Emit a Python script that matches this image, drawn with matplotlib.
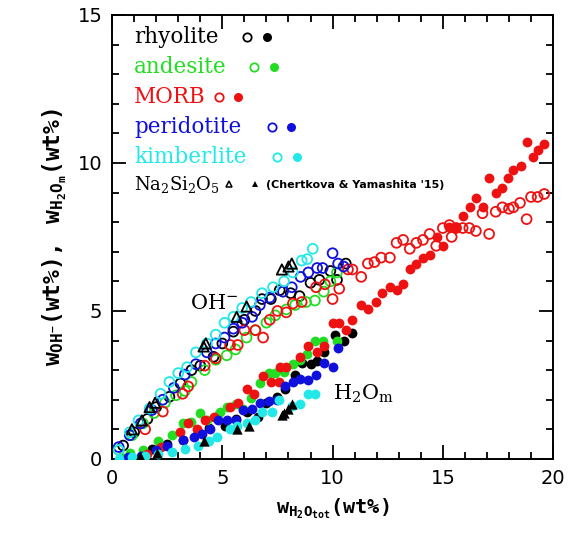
import matplotlib.pyplot as plt
from matplotlib.ticker import MultipleLocator

plt.rcParams['mathtext.fontset'] = 'custom'
plt.rcParams['mathtext.rm'] = 'DejaVu Serif'
plt.rcParams['mathtext.it'] = 'DejaVu Serif:italic'
plt.rcParams['mathtext.bf'] = 'DejaVu Serif:bold'
plt.rcParams['mathtext.tt'] = 'DejaVu Sans Mono:bold'

# Data (OH- = open symbols, H2Om = filled symbols)
rhy_oh_x = [0.5, 1.0, 1.6, 2.0, 2.6, 3.1, 3.6, 4.0, 4.6, 5.0, 5.5, 6.0, 6.5, 6.8, 7.2, 7.6, 8.1, 8.5, 9.0, 9.4, 9.9, 10.2, 10.6]
rhy_oh_y = [0.45, 0.9, 1.35, 1.75, 2.1, 2.55, 3.0, 3.15, 3.45, 3.9, 4.3, 4.7, 5.0, 5.4, 5.4, 5.7, 5.6, 5.5, 5.95, 6.05, 6.35, 6.05, 6.6]
rhy_h2o_x = [0.8, 1.8, 2.5, 3.2, 3.9, 4.4, 4.7, 5.1, 5.6, 6.1, 6.6, 7.0, 7.5, 7.85, 8.3, 8.6, 9.0, 9.3, 9.6, 10.1, 10.5, 10.9]
rhy_h2o_y = [0.1, 0.35, 0.5, 0.65, 0.9, 1.05, 1.4, 1.1, 1.35, 1.6, 1.4, 1.9, 2.1, 2.35, 2.85, 3.25, 3.2, 3.3, 3.6, 4.2, 4.0, 4.25]

and_oh_x = [0.3, 0.9, 1.4, 1.9, 2.4, 2.9, 3.3, 3.6, 4.2, 4.7, 5.2, 5.6, 6.1, 6.5, 7.0, 7.4, 7.9, 8.3, 8.8, 9.2, 9.6, 9.9, 10.2]
and_oh_y = [0.3, 0.8, 1.2, 1.55, 1.9, 2.15, 2.3, 2.6, 3.0, 3.35, 3.5, 3.7, 4.1, 4.35, 4.6, 4.85, 5.05, 5.2, 5.3, 5.35, 5.65, 6.0, 6.3]
and_h2o_x = [0.4, 0.8, 1.4, 2.1, 2.7, 3.2, 3.6, 4.0, 4.3, 4.9, 5.2, 5.6, 5.95, 6.3, 6.7, 7.1, 7.4, 7.8, 8.2, 8.5, 8.85, 9.2, 9.55, 10.2]
and_h2o_y = [0.05, 0.2, 0.3, 0.6, 0.8, 1.2, 1.25, 1.55, 1.3, 1.6, 1.75, 1.85, 1.7, 2.05, 2.55, 2.9, 2.9, 2.95, 3.2, 3.35, 3.55, 4.0, 4.0, 4.0]

morb_oh_x = [1.5, 2.3, 3.2, 3.45, 4.2, 4.7, 5.35, 5.7, 6.0, 6.5, 6.85, 7.15, 7.5, 7.9, 8.2, 8.6, 9.25, 9.65, 10.0, 10.3,
             10.7, 10.9, 11.3, 11.6, 11.9, 12.2, 12.6, 12.9, 13.2, 13.5, 13.8, 14.1, 14.4, 14.7, 15.0, 15.3, 15.4, 15.6,
             15.9, 16.2, 16.5, 16.8, 17.1, 17.4, 17.7, 18.0, 18.2, 18.5, 18.8, 19.0, 19.3, 19.6]
morb_oh_y = [1.0, 1.6, 2.2, 2.45, 3.15, 3.4, 3.85, 3.85, 4.35, 4.35, 4.1, 4.7, 5.0, 4.95, 5.25, 5.3, 5.8, 5.9, 5.4, 5.75,
             6.4, 6.4, 6.15, 6.6, 6.65, 6.8, 6.8, 7.3, 7.4, 7.1, 7.3, 7.4, 7.6, 7.2, 7.8, 7.9, 7.5, 7.8,
             7.8, 7.8, 7.7, 8.3, 7.6, 8.35, 8.5, 8.45, 8.5, 8.65, 8.1, 8.85, 8.85, 8.95]
morb_h2o_x = [1.6, 2.2, 3.1, 3.45, 3.85, 4.2, 4.6, 5.35, 5.7, 6.1, 6.45, 6.85, 7.2, 7.55, 7.6, 7.9, 8.5, 8.9, 9.3, 9.6,
              10.0, 10.3, 10.6, 10.9, 11.3, 11.6, 11.95, 12.25, 12.6, 12.9, 13.2, 13.5, 13.8, 14.1, 14.4, 14.75, 15.0,
              15.3, 15.6, 15.9, 16.25, 16.5, 16.8, 17.1, 17.4, 17.7, 17.95, 18.2, 18.55, 18.8, 19.1, 19.3, 19.6]
morb_h2o_y = [0.15, 0.4, 0.9, 1.2, 1.0, 1.3, 1.4, 1.75, 1.9, 2.35, 2.2, 2.8, 2.6, 2.6, 3.1, 3.1, 3.45, 3.8, 3.6, 3.8,
              4.6, 4.6, 4.35, 4.7, 5.2, 5.05, 5.3, 5.6, 5.8, 5.7, 5.9, 6.4, 6.6, 6.8, 6.9, 7.5, 7.2,
              7.85, 7.85, 8.2, 8.5, 8.8, 8.5, 9.5, 9.0, 9.15, 9.5, 9.75, 9.9, 10.7, 10.2, 10.45, 10.65]

per_oh_x = [0.3, 0.8, 1.3, 1.8, 2.3, 2.8, 3.3, 3.8, 4.3, 4.7, 5.1, 5.5, 5.9, 6.35, 6.7, 7.15, 7.75, 8.15, 8.55, 8.9, 9.3, 9.55, 10.0, 10.25, 10.5]
per_oh_y = [0.4, 0.8, 1.2, 1.65, 2.0, 2.4, 2.85, 3.2, 3.6, 3.9, 4.1, 4.4, 4.6, 4.8, 5.2, 5.45, 5.65, 5.8, 6.15, 6.3, 6.45, 6.45, 6.95, 6.6, 6.5]
per_h2o_x = [0.7, 1.3, 2.0, 2.5, 3.2, 3.7, 4.1, 4.45, 4.8, 5.2, 5.6, 5.95, 6.35, 6.7, 7.1, 7.5, 7.85, 8.2, 8.5, 8.9, 9.25, 9.6, 10.0, 10.25]
per_h2o_y = [0.05, 0.1, 0.3, 0.45, 0.65, 0.75, 0.85, 1.0, 1.3, 1.3, 1.3, 1.65, 1.7, 1.9, 1.95, 2.0, 2.45, 2.6, 2.7, 2.65, 2.85, 3.25, 3.1, 3.75]

kim_oh_x = [0.3, 0.8, 1.2, 1.7, 2.2, 2.6, 3.0, 3.4, 3.8, 4.3, 4.7, 5.1, 5.5, 5.9, 6.3, 6.8, 7.3, 7.8, 8.2, 8.6, 8.85, 9.1]
kim_oh_y = [0.3, 0.9, 1.3, 1.7, 2.2, 2.6, 2.9, 3.1, 3.6, 3.9, 4.2, 4.6, 4.8, 5.1, 5.3, 5.6, 5.8, 6.0, 6.3, 6.7, 6.75, 7.1]
kim_h2o_x = [0.3, 0.9, 1.5, 2.1, 2.7, 3.3, 3.9, 4.4, 4.75, 5.35, 5.65, 6.1, 6.5, 6.8, 7.25, 7.55, 8.15, 8.5, 8.9, 9.2]
kim_h2o_y = [0.0, 0.05, 0.1, 0.15, 0.25, 0.35, 0.45, 0.6, 0.75, 1.0, 1.1, 1.2, 1.3, 1.6, 1.6, 2.0, 1.8, 1.85, 2.2, 2.2]

na_oh_x = [0.9, 1.35, 1.7, 1.95, 4.15, 4.25, 5.65, 6.1, 7.7, 8.0, 8.15]
na_oh_y = [1.0, 1.3, 1.75, 1.9, 3.8, 3.9, 4.8, 5.15, 6.4, 6.5, 6.6]
na_h2o_x = [1.25, 2.05, 4.15, 5.65, 6.2, 7.7, 7.8, 8.0, 8.15]
na_h2o_y = [0.1, 0.2, 0.6, 1.0, 1.1, 1.5, 1.55, 1.7, 1.85]

names = ['rhyolite', 'andesite', 'MORB', 'peridotite', 'kimberlite']
colors = ['black', '#22dd22', '#ee1111', '#1010dd', '#22e8e8']
oh_sets = [(rhy_oh_x, rhy_oh_y), (and_oh_x, and_oh_y), (morb_oh_x, morb_oh_y), (per_oh_x, per_oh_y), (kim_oh_x, kim_oh_y)]
h2o_sets = [(rhy_h2o_x, rhy_h2o_y), (and_h2o_x, and_h2o_y), (morb_h2o_x, morb_h2o_y), (per_h2o_x, per_h2o_y), (kim_h2o_x, kim_h2o_y)]

fig = plt.figure(figsize=(5.69, 5.33), dpi=100)
ax = fig.add_axes([0.197, 0.139, 0.775, 0.833])

for (ox, oy), (hx, hy), c in zip(oh_sets, h2o_sets, colors):
    ax.scatter(ox, oy, s=50, facecolors='none', edgecolors=c, linewidths=1.3, zorder=3)
    ax.scatter(hx, hy, s=50, color=c, linewidths=0, zorder=3)
ax.scatter(na_oh_x, na_oh_y, s=55, marker='^', facecolors='none', edgecolors='black', linewidths=1.3, zorder=4)
ax.scatter(na_h2o_x, na_h2o_y, s=55, marker='^', color='black', linewidths=0, zorder=4)

# legend drawn by hand: label then open/filled symbol
leg_y = [0.950, 0.883, 0.815, 0.748, 0.680]
leg_open = [0.306, 0.322, 0.243, 0.363, 0.374]
leg_fill = [0.351, 0.367, 0.286, 0.406, 0.420]
for name, c, yy, xo, xf in zip(names, colors, leg_y, leg_open, leg_fill):
    ax.text(0.05, yy, name, color=c, fontsize=15.5, family='DejaVu Serif', va='center', transform=ax.transAxes)
    ax.plot([xo], [yy], 'o', ms=6, mfc='none', mec=c, mew=1.3, transform=ax.transAxes)
    ax.plot([xf], [yy], 'o', ms=6.5, color=c, mew=0, transform=ax.transAxes)
ax.text(0.05, 0.617, r'Na$_2$Si$_2$O$_5$', color='black', fontsize=13, family='DejaVu Serif', va='center', transform=ax.transAxes)
ax.plot([0.266], [0.620], '^', ms=5, mfc='none', mec='black', mew=1.1, transform=ax.transAxes)
ax.plot([0.324], [0.620], '^', ms=5, color='black', mew=0, transform=ax.transAxes)
ax.text(0.350, 0.617, "(Chertkova & Yamashita '15)", fontsize=8, weight='bold', va='center', transform=ax.transAxes)

ax.text(3.55, 5.25, r'OH$^{-}$', fontsize=15, family='DejaVu Serif', va='center')
ax.text(10.0, 2.2, r'H$_2$O$_\mathrm{m}$', fontsize=15, family='DejaVu Serif', va='center')

ax.set_xlim(0, 20)
ax.set_ylim(0, 15)
ax.xaxis.set_major_locator(MultipleLocator(5))
ax.xaxis.set_minor_locator(MultipleLocator(1))
ax.yaxis.set_major_locator(MultipleLocator(5))
ax.yaxis.set_minor_locator(MultipleLocator(1))
ax.tick_params(which='both', direction='in', top=True, right=True, width=1.3, labelsize=14)
ax.tick_params(which='major', length=10, pad=7)
ax.tick_params(which='minor', length=5)
for sp in ax.spines.values():
    sp.set_linewidth(1.4)

ax.set_xlabel(r'$\mathtt{w_{H_2O_{tot}}(wt\%)}$', fontsize=14.5, labelpad=6)
ax.set_ylabel(r'$\mathtt{w_{OH^{-}}(wt\%),\ \ w_{H_2O_m}(wt\%)}$', fontsize=16.5, labelpad=6)

fig.savefig('out.png', dpi=100)
